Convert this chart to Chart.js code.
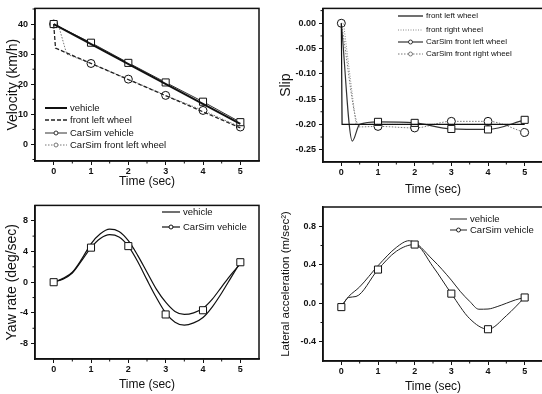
<!DOCTYPE html>
<html>
<head>
<meta charset="utf-8">
<script src="https://cdn.jsdelivr.net/npm/chart.js@4.4.1/dist/chart.umd.min.js"></script>
<style>
  html, body { margin: 0; padding: 0; background: #fff; width: 542px; height: 394px; overflow: hidden; position: relative; }
  canvas { position: absolute; }
</style>
</head>
<body>
<canvas id="chart1" width="265" height="197" style="left:0;top:0"></canvas>
<canvas id="chart2" width="278" height="197" style="left:271px;top:0"></canvas>
<canvas id="chart3" width="265" height="197" style="left:0;top:197px"></canvas>
<canvas id="chart4" width="278" height="197" style="left:271px;top:197px"></canvas>
<script>
// shared time axis
const timeTicks = [0, 1, 2, 3, 4, 5];
const simTime = [0, 1, 2, 3, 4, 5];

// Velocity (km/h)
const velTicks = [0, 10, 20, 30, 40];
const velVehicleT = [0, 5];
const velVehicle = [40, 6.8];
const velWheelT = [0, 0.05, 5];
const velWheel = [40, 32, 5.5];
const velSimVehicle = [40, 33.8, 27.1, 20.6, 14.2, 7.4];
const velSimWheelT = [0, 0.12, 0.35, 1, 2, 3, 4, 5];
const velSimWheel = [40, 40, 30, 26.9, 21.7, 16.3, 11.3, 5.8];

// Slip
const slipTicks = [0, -0.05, -0.1, -0.15, -0.2, -0.25];
const slipFLT = [0, 0.02, 5];
const slipFL = [0, -0.2, -0.2];
const slipFRT = [0, 0.06, 0.4, 5];
const slipFR = [0, 0, -0.2, -0.2];
const slipSimFLT = [0, 0.3, 0.5, 1, 2, 3, 4, 5];
const slipSimFL = [0, -0.233, -0.2, -0.195, -0.197, -0.209, -0.21, -0.191];
const slipSimFRT = [0, 0.5, 1, 2, 3, 4, 5];
const slipSimFR = [0, -0.205, -0.204, -0.207, -0.194, -0.194, -0.216];

// Yaw rate (deg/sec)
const yawTicks = [-8, -4, 0, 4, 8];
const yawT = [0, 0.25, 0.5, 0.75, 1, 1.25, 1.5, 1.75, 2, 2.25, 2.5, 2.75, 3, 3.25, 3.5, 3.75, 4, 4.25, 4.5, 4.75, 5];
const yawVehicle = [0, 0.5, 1.3, 3.0, 5.0, 6.3, 6.9, 6.6, 5.4, 3.5, 1.3, -0.9, -2.6, -3.8, -4.2, -4.0, -3.4, -2.2, -0.6, 1.0, 2.4];
const yawSim = [0, 0.4, 1.2, 2.8, 4.5, 5.7, 6.2, 5.9, 4.7, 2.7, 0.3, -2.0, -4.0, -5.2, -5.6, -5.3, -4.6, -3.2, -1.4, 0.6, 2.6];
const yawSimMarks = [0, 4.5, 4.7, -4.2, -3.65, 2.6];

// Lateral acceleration (m/sec2)
const latTicks = [-0.4, 0, 0.4, 0.8];
const latVehicleT = [0, 0.2, 0.5, 1, 1.5, 1.85, 2.5, 3, 3.25, 3.5, 3.75, 4, 4.25, 4.5, 4.75, 5];
const latVehicle = [-0.03, 0.07, 0.17, 0.39, 0.58, 0.65, 0.45, 0.24, 0.12, 0.02, -0.062, -0.06, -0.035, 0.0, 0.035, 0.06];
const latSimT = [0, 0.2, 0.4, 1, 1.5, 2, 2.5, 3, 3.5, 4, 4.5, 5];
const latSim = [-0.04, 0.06, 0.07, 0.35, 0.54, 0.61, 0.38, 0.10, -0.16, -0.27, -0.13, 0.06];
const latSimMarks = [-0.04, 0.35, 0.61, 0.10, -0.27, 0.06];

const FONT = 'Liberation Sans, Arial, Helvetica, sans-serif';
const INK = '#111';

function pts(ts, vs) { return ts.map((t, i) => ({ x: t, y: vs[i] })); }

// marker only on whole seconds
function onInt(r, skipZero) {
  return ctx => {
    const p = ctx.raw;
    if (!p || !Number.isInteger(p.x) || (skipZero && p.x === 0)) return 0;
    return r;
  };
}

function axes(c) {
  return {
    x: {
      type: 'linear', min: -0.5, max: 5.5,
      afterBuildTicks: s => { s.ticks = timeTicks.map(v => ({ value: v })); },
      afterFit: s => { s.height = c.xh; },
      grid: { drawOnChartArea: false, tickLength: 4, color: INK },
      border: { color: INK, width: 1.5 },
      ticks: { color: INK, padding: 1, autoSkip: false, maxRotation: 0, font: { family: FONT, size: 9, weight: 'bold' } },
      title: { display: true, text: 'Time (sec)', color: INK, padding: { top: 0, bottom: c.xpad }, font: { family: FONT, size: 12 } }
    },
    y: {
      type: 'linear', min: c.ymin, max: c.ymax,
      afterBuildTicks: s => { s.ticks = c.yticks.map(v => ({ value: v })); },
      afterFit: s => { s.width = c.yw; },
      grid: { drawOnChartArea: false, tickLength: 4, color: INK },
      border: { color: INK, width: 1.5 },
      ticks: { color: INK, padding: 3, autoSkip: false, callback: v => c.fmt(v), font: { family: FONT, size: 9, weight: 'bold' } },
      title: { display: true, text: c.title, color: INK, padding: { top: c.ypad, bottom: 0 }, font: { family: FONT, size: c.tsize } }
    }
  };
}

// frame box, minor ticks and the legend drawn inside the plot
const boxLegend = {
  id: 'boxLegend',
  afterDatasetsDraw(chart, args, o) {
    const { ctx, chartArea: a } = chart;
    ctx.save();
    ctx.strokeStyle = INK;
    ctx.lineWidth = 1.5;
    ctx.strokeRect(a.left, a.top, a.right - a.left, a.bottom - a.top);

    ctx.lineWidth = 1;
    ['x', 'y'].forEach(id => {
      const s = chart.scales[id];
      const t = s.ticks.map(k => k.value).sort((p, q) => p - q);
      const step = t[1] - t[0];
      ctx.beginPath();
      for (let v = t[0] - step / 2; v < s.max; v += step) {
        if (v <= s.min) continue;
        const p = s.getPixelForValue(v);
        if (id === 'x') { ctx.moveTo(p, a.bottom); ctx.lineTo(p, a.bottom + 2.5); }
        else { ctx.moveTo(a.left, p); ctx.lineTo(a.left - 2.5, p); }
      }
      ctx.stroke();
    });

    const items = chart.data.datasets.filter(d => d.label);
    ctx.font = o.size + 'px ' + FONT;
    ctx.textBaseline = 'middle';
    items.forEach((d, i) => {
      const y = o.y[i];
      ctx.beginPath();
      ctx.setLineDash(d.borderDash || []);
      ctx.strokeStyle = d.borderColor;
      ctx.lineWidth = d.borderWidth;
      ctx.moveTo(o.x, y);
      ctx.lineTo(o.x + o.len, y);
      ctx.stroke();
      ctx.setLineDash([]);
      if (d.legendMarker) {
        ctx.beginPath();
        ctx.arc(o.x + o.len / 2, y, 2, 0, Math.PI * 2);
        ctx.fillStyle = '#fff';
        ctx.fill();
        ctx.lineWidth = 1;
        ctx.stroke();
      }
      ctx.fillStyle = INK;
      ctx.fillText(d.label, o.x + o.len + 3, y);
    });
    ctx.restore();
  }
};

function baseOptions(pad, sc, leg) {
  return {
    responsive: false,
    animation: false,
    devicePixelRatio: 1,
    layout: { padding: pad },
    plugins: { legend: { display: false }, tooltip: { enabled: false }, boxLegend: leg },
    scales: axes(sc)
  };
}

const sq = { pointStyle: 'rect', pointBackgroundColor: '#fff', pointBorderColor: INK, pointBorderWidth: 1 };
const ci = { pointStyle: 'circle', pointBackgroundColor: '#fff', pointBorderColor: INK, pointBorderWidth: 1 };

// Chart 1: Velocity
new Chart(document.getElementById('chart1'), {
  type: 'line',
  data: {
    datasets: [
      { label: 'vehicle', data: pts(velVehicleT, velVehicle), borderColor: INK, borderWidth: 2, pointRadius: 0 },
      { label: 'front left wheel', data: pts(velWheelT, velWheel), borderColor: '#222', borderWidth: 1.3, borderDash: [4, 2], pointRadius: 0 },
      Object.assign({ label: 'CarSim vehicle', data: pts(simTime, velSimVehicle), borderColor: '#333', borderWidth: 1, pointRadius: 5, legendMarker: true }, sq),
      Object.assign({ label: 'CarSim front left wheel', data: pts(velSimWheelT, velSimWheel), borderColor: '#777', borderWidth: 1, borderDash: [1.5, 1.5], pointRadius: onInt(4), legendMarker: true }, ci)
    ]
  },
  options: baseOptions({ top: 4, right: 6 },
    { ymin: -5.5, ymax: 45.2, yticks: velTicks, fmt: v => v.toFixed(0), title: 'Velocity (km/h)', tsize: 14, yw: 35, ypad: 5, xh: 36, xpad: 8 },
    { x: 45, y: [108, 120, 133, 145], len: 22, size: 9.5 }),
  plugins: [boxLegend]
});

// Chart 2: Slip
new Chart(document.getElementById('chart2'), {
  type: 'line',
  data: {
    datasets: [
      { label: 'front left wheel', data: pts(slipFLT, slipFL), borderColor: INK, borderWidth: 1.2, pointRadius: 0 },
      { label: 'front right wheel', data: pts(slipFRT, slipFR), borderColor: '#888', borderWidth: 1, borderDash: [1, 1.5], pointRadius: 0 },
      Object.assign({ label: 'CarSim front left wheel', data: pts(slipSimFLT, slipSimFL), borderColor: '#333', borderWidth: 1.2, cubicInterpolationMode: 'monotone', tension: 0.4, pointRadius: onInt(5, true), legendMarker: true }, sq),
      Object.assign({ label: 'CarSim front right wheel', data: pts(slipSimFRT, slipSimFR), borderColor: '#777', borderWidth: 1, borderDash: [1.5, 1.5], cubicInterpolationMode: 'monotone', tension: 0.4, pointRadius: onInt(4), legendMarker: true }, ci)
    ]
  },
  options: baseOptions({ top: 4, right: 0 },
    { ymin: -0.2744, ymax: 0.0294, yticks: slipTicks, fmt: v => v.toFixed(2), title: 'Slip', tsize: 14, yw: 52, ypad: 7, xh: 35, xpad: 0 },
    { x: 127, y: [16, 30, 42, 54], len: 25, size: 8 }),
  plugins: [boxLegend]
});

// Chart 3: Yaw rate
new Chart(document.getElementById('chart3'), {
  type: 'line',
  data: {
    datasets: [
      Object.assign({ data: pts(simTime, yawSimMarks), showLine: false, pointRadius: 5, order: -1 }, sq),
      { label: 'vehicle', data: pts(yawT, yawVehicle), borderColor: INK, borderWidth: 1.2, cubicInterpolationMode: 'monotone', tension: 0.4, pointRadius: 0 },
      { label: 'CarSim vehicle', data: pts(yawT, yawSim), borderColor: INK, borderWidth: 1.2, cubicInterpolationMode: 'monotone', tension: 0.4, pointRadius: 0, legendMarker: true }
    ]
  },
  options: baseOptions({ top: 7, right: 6 },
    { ymin: -10, ymax: 10, yticks: yawTicks, fmt: v => v.toFixed(0), title: 'Yaw rate (deg/sec)', tsize: 14, yw: 35, ypad: 4, xh: 35, xpad: 2 },
    { x: 162, y: [15, 30], len: 18, size: 9.5 }),
  plugins: [boxLegend]
});

// Chart 4: Lateral acceleration
new Chart(document.getElementById('chart4'), {
  type: 'line',
  data: {
    datasets: [
      Object.assign({ data: pts(simTime, latSimMarks), showLine: false, pointRadius: 5, order: -1 }, sq),
      { label: 'vehicle', data: pts(latVehicleT, latVehicle), borderColor: '#222', borderWidth: 1, cubicInterpolationMode: 'monotone', tension: 0.4, pointRadius: 0 },
      { label: 'CarSim vehicle', data: pts(latSimT, latSim), borderColor: '#222', borderWidth: 1, cubicInterpolationMode: 'monotone', tension: 0.4, pointRadius: 0, legendMarker: true }
    ]
  },
  options: baseOptions({ top: 10, right: 0 },
    { ymin: -0.6, ymax: 1.0, yticks: latTicks, fmt: v => v.toFixed(1), title: 'Lateral acceleration (m/sec²)', tsize: 11.5, yw: 52, ypad: 8, xh: 33, xpad: 0 },
    { x: 179, y: [22, 33], len: 17, size: 9.5 }),
  plugins: [boxLegend]
});
</script>
</body>
</html>
